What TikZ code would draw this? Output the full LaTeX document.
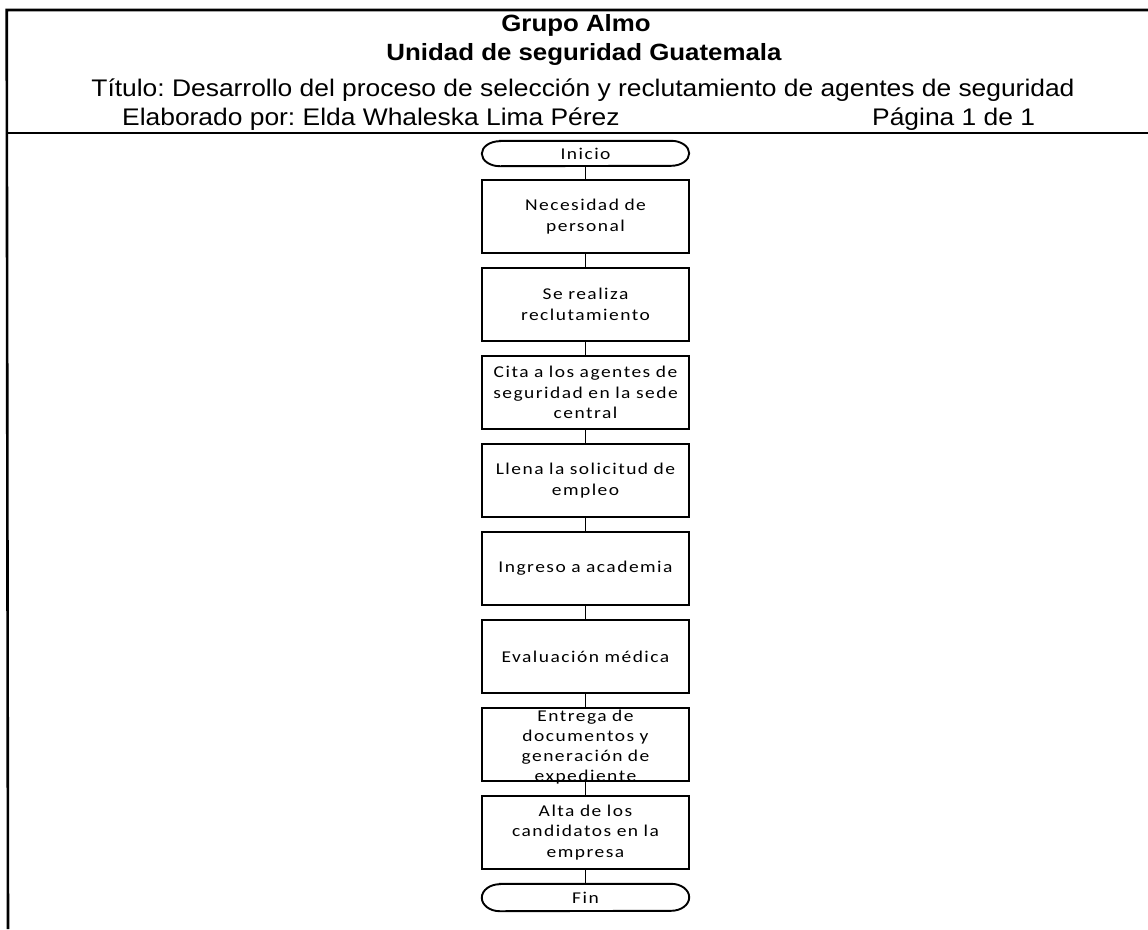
\documentclass[tikz,border=0pt]{standalone}
\usepackage{fontspec}
\setmainfont{Liberation Sans}
\newfontfamily\hdrfont[FakeStretch=1.1]{Liberation Sans}
\newfontfamily\boxfont[FakeStretch=1.18,LetterSpace=9]{Carlito}
\frenchspacing
\begin{document}
\begin{tikzpicture}[x=1pt,y=1pt,
  frame/.style={line width=2.6pt},
  hdr/.style={inner sep=0pt, anchor=base, font=\hdrfont\fontsize{24}{28}\selectfont},
  hdrbold/.style={hdr, font=\hdrfont\bfseries\fontsize{23.5}{28}\selectfont},
  proc/.style={draw, line width=1.9pt, minimum width=207pt, minimum height=73pt,
    inner sep=0pt, text width=205pt, align=center,
    font=\boxfont\fontsize{16.5}{20.5}\selectfont},
  boxtext/.style={inner sep=0pt, text width=205pt, align=center,
    font=\boxfont\fontsize{16.5}{20}\selectfont},
  term/.style={minimum width=207pt, inner sep=0pt,
    font=\boxfont\fontsize{16.5}{19}\selectfont},
  termline/.style={line width=1.9pt},
  link/.style={line width=1.9pt}]
\useasboundingbox (0,0) rectangle (1148,-929);
\fill[white] (0,0) rectangle (1148,-929);

% page frame and header separator
\coordinate (tl) at (8,-10);
\coordinate (tr) at (1148,-10);
\coordinate (bl) at (8,-929);
\coordinate (ml) at (8,-133);
\coordinate (mr) at (1148,-133);
\draw[frame] (tr) -- ([xshift=-1.3pt]tl) -- (bl);
\draw[frame] (ml) -- (mr);

% header text
\node[hdrbold] (h1) at (576,-31) {Grupo Almo};
\node[hdrbold] (h2) at (584,-60) {Unidad de seguridad Guatemala};
\node[hdr] (h3) at (583,-96) {Título: Desarrollo del proceso de selección y reclutamiento de agentes de seguridad};
\node[hdr, anchor=base west] (h4) at (122,-125.5) {Elaborado por: Elda Whaleska Lima Pérez};
\node[hdr, anchor=base west] (h5) at (872,-125.5) {Página 1 de 1};

% flowchart
\node[term, minimum height=25pt] (inicio) at (585.5,-153.5) {Inicio};
\node[proc] (b1) at (585.5,-216.5) {Necesidad de\\personal};
\node[proc] (b2) at (585.5,-304.5) {Se realiza\\reclutamiento};
\node[proc] (b3) at (585.5,-392.5) {Cita a los agentes de\\seguridad en la sede\\central};
\node[proc] (b4) at (585.5,-480.5) {Llena la solicitud de\\empleo};
\node[proc] (b5) at (585.5,-568.5) {Ingreso a academia};
\node[proc] (b6) at (585.5,-656.5) {Evaluación médica};
\node[proc] (b7) at (585.5,-744.5) {};
\node[boxtext] (t7) at ([yshift=-3pt]b7.center) {Entrega de\\documentos y\\generación de\\expediente};
\node[proc] (b8) at (585.5,-832.5) {Alta de los\\candidatos en la\\empresa};
\node[term, minimum height=27pt] (fin) at (585.5,-897.5) {Fin};

% terminator outlines
\draw[termline] ([xshift=18pt]inicio.north west) -- ([xshift=-18pt]inicio.north east)
  arc[start angle=90,end angle=-90,x radius=18pt,y radius=12.5pt]
  -- ([xshift=18pt]inicio.south west)
  arc[start angle=270,end angle=90,x radius=18pt,y radius=12.5pt] -- cycle;
\draw[termline] ([xshift=18pt]fin.north west) -- ([xshift=-18pt]fin.north east)
  arc[start angle=90,end angle=-90,x radius=18pt,y radius=13.5pt]
  -- ([xshift=18pt]fin.south west)
  arc[start angle=270,end angle=90,x radius=18pt,y radius=13.5pt] -- cycle;

% connectors
\draw[link] (inicio) -- (b1);
\draw[link] (b1) -- (b2);
\draw[link] (b2) -- (b3);
\draw[link] (b3) -- (b4);
\draw[link] (b4) -- (b5);
\draw[link] (b5) -- (b6);
\draw[link] (b6) -- (b7);
\draw[link] (b7) -- (b8);
\draw[link] (b8) -- (fin);
\end{tikzpicture}
\end{document}
